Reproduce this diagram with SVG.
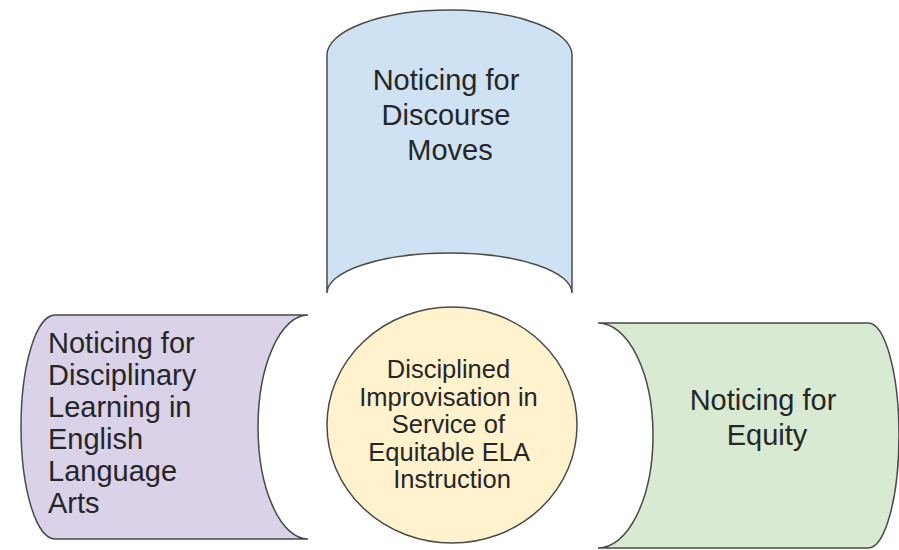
<svg xmlns="http://www.w3.org/2000/svg" width="899" height="550" viewBox="0 0 899 550">
  <style>
    .shape { stroke: #4a4a4a; stroke-width: 1.5; }
    .label { font-family: "Liberation Sans", Arial, sans-serif; fill: #262626; }
    .big { font-size: 29px; }
    .small { font-size: 25.5px; }
  </style>
  <rect width="899" height="550" fill="#ffffff"/>

  <g id="node-discourse">
    <path class="shape" fill="#cfe2f3" d="M327,55 A122.5,45 0 0 1 572,55 L572,293 A122.5,40 0 0 0 327,293 Z"/>
    <text class="label big" text-anchor="middle" x="450" y="90">
      <tspan x="450">Noticing for</tspan>
      <tspan x="450" dy="35">Discourse</tspan>
      <tspan x="450" dy="35">Moves</tspan>
    </text>
  </g>

  <g id="node-disciplinary">
    <path class="shape" fill="#d9d2e9" d="M55,315 L308,315 A50,112 0 0 0 308,539 L55,539 A34,112 0 0 1 55,315 Z"/>
    <text class="label big" x="48" y="353">
      <tspan x="48">Noticing for</tspan>
      <tspan x="48" dy="32">Disciplinary</tspan>
      <tspan x="48" dy="32">Learning in</tspan>
      <tspan x="48" dy="32">English</tspan>
      <tspan x="48" dy="32">Language</tspan>
      <tspan x="48" dy="32">Arts</tspan>
    </text>
  </g>

  <g id="node-equity">
    <path class="shape" fill="#d9ead3" d="M598,323 L868,323 A31,112.5 0 0 1 868,548 L598,548 A55,112.5 0 0 0 598,323 Z"/>
    <text class="label big" text-anchor="middle" x="767" y="410">
      <tspan x="767">Noticing for</tspan>
      <tspan x="767" dy="35">Equity</tspan>
    </text>
  </g>

  <g id="node-center">
    <ellipse class="shape" fill="#fff2cc" cx="452" cy="425" rx="125" ry="118"/>
    <text class="label small" text-anchor="middle" x="452" y="378">
      <tspan x="452">Disciplined</tspan>
      <tspan x="452" dy="27.5">Improvisation in</tspan>
      <tspan x="452" dy="27.5">Service of</tspan>
      <tspan x="452" dy="27.5">Equitable ELA</tspan>
      <tspan x="452" dy="27.5">Instruction</tspan>
    </text>
  </g>

  <g id="connectors"></g>
</svg>
